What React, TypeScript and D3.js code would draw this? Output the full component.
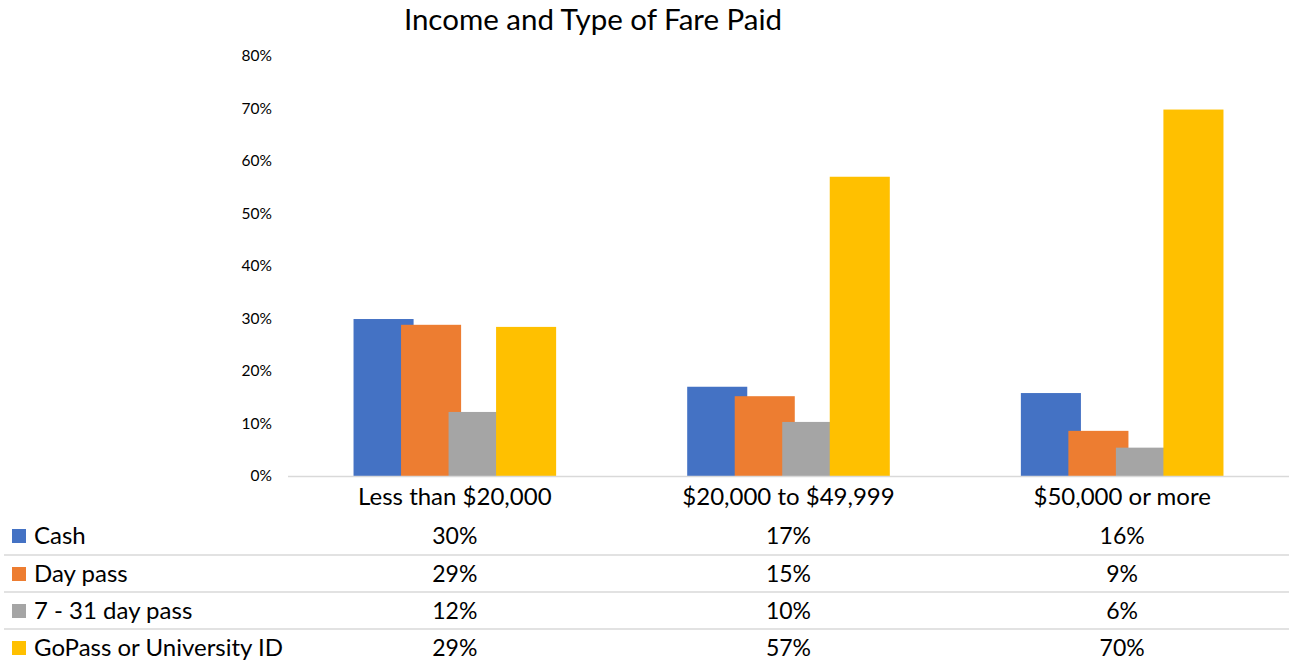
import React from "react";
import * as d3 from "d3";

const categories = ["Less than $20,000", "$20,000 to $49,999", "$50,000 or more"];
const seriesNames = ["Cash", "Day pass", "7 - 31 day pass", "GoPass or University ID"];
const cash = [29.9, 17.0, 15.8];
const dayPass = [28.8, 15.2, 8.6];
const longPass = [12.2, 10.3, 5.4];
const goPass = [28.4, 57.0, 69.8];
const tableLabels = [
  ["30%", "17%", "16%"],
  ["29%", "15%", "9%"],
  ["12%", "10%", "6%"],
  ["29%", "57%", "70%"],
];
const yTicks = [0, 10, 20, 30, 40, 50, 60, 70, 80];
const colors = ["#4472C4", "#ED7D31", "#A5A5A5", "#FFC000"];

const W = 1289;
const H = 662;
const FONT = "Lato, 'Open Sans', sans-serif";

export default function App() {
  const series = [cash, dayPass, longPass, goPass];
  const x = d3.scaleBand<string>().domain(categories).range([288, 1289]).padding(0);
  const y = d3.scaleLinear().domain([0, 80]).range([476, 56]);
  const bw = x.bandwidth();
  const step = bw * 0.1424;
  const barW = bw * 0.18;
  const rowY = [536, 574, 611, 648];
  const lineY = [555, 592, 629];

  return (
    <div style={{ position: "absolute", left: 0, top: 0 }}>
      <svg width={W} height={H} style={{ display: "block", background: "#fff" }} fontFamily={FONT}>
        <text x={593} y={30} textAnchor="middle" fontSize={29.5} fill="#000">
          Income and Type of Fare Paid
        </text>
        {yTicks.map((t) => (
          <text key={t} x={272} y={y(t)} dy="0.35em" textAnchor="end" fontSize={15.5} fill="#000">
            {t}%
          </text>
        ))}
        {series.map((vals, si) =>
          categories.map((c, ci) => {
            const cx = (x(c) as number) + bw / 2;
            const left = cx + (si - 1.5) * step - barW / 2;
            return (
              <rect
                key={`${si}-${ci}`}
                x={left}
                y={y(vals[ci])}
                width={barW}
                height={y(0) - y(vals[ci])}
                fill={colors[si]}
              />
            );
          })
        )}
        <line x1={288} x2={1289} y1={476.5} y2={476.5} stroke="#d9d9d9" strokeWidth={1.5} />
        {categories.map((c) => (
          <text key={c} x={(x(c) as number) + bw / 2} y={497} dy="0.35em" textAnchor="middle" fontSize={24} fill="#000">
            {c}
          </text>
        ))}
        {lineY.map((ly) => (
          <line key={ly} x1={4} x2={1289} y1={ly} y2={ly} stroke="#d9d9d9" strokeWidth={1.5} />
        ))}
        {seriesNames.map((n, si) => (
          <g key={n}>
            <rect x={12} y={rowY[si] - 7} width={14} height={14} fill={colors[si]} />
            <text x={34} y={rowY[si]} dy="0.35em" fontSize={24} fill="#000">
              {n}
            </text>
            {categories.map((c, ci) => (
              <text key={c} x={(x(c) as number) + bw / 2} y={rowY[si]} dy="0.35em" textAnchor="middle" fontSize={23} fill="#000">
                {tableLabels[si][ci]}
              </text>
            ))}
          </g>
        ))}
      </svg>
    </div>
  );
}
